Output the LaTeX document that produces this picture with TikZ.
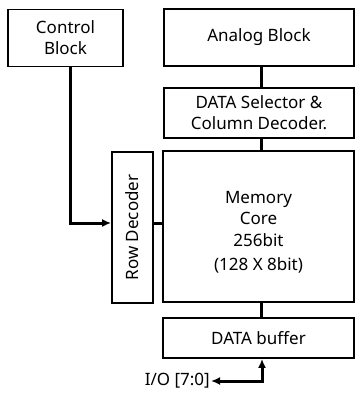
\documentclass[tikz,border=0pt]{standalone}
\usepackage{fontspec}
\setmainfont{Noto Sans}
\usetikzlibrary{arrows.meta}
\begin{document}
\begin{tikzpicture}[x=1pt,y=-1pt,
  txt/.style={font=\fontsize{17}{21}\selectfont},
  blk/.style={txt, draw=black, line width=1.8pt, rectangle, align=center, inner sep=0pt},
  conn/.style={line width=3pt},
  tip/.style={-{Latex[length=9pt,width=8pt]}}
]
\useasboundingbox (0,0) rectangle (356,396);
\node[blk, minimum width=115pt, minimum height=57pt] (control) at (65.5,38) {Control\\Block};
\node[blk, minimum width=190pt, minimum height=57pt] (analog) at (259,37.5) {Analog Block};
\node[blk, minimum width=190pt, minimum height=50pt] (datasel) at (259,113) {DATA Selector \&\\Column Decoder.};
\node[blk, minimum width=191pt, minimum height=151pt, font=\fontsize{17}{21.5}\selectfont] (memory) at (258.5,226.5) {\\[2pt]Memory\\Core\\256bit\\[3pt](128 X 8bit)};
\node[blk, minimum width=41pt, minimum height=151pt] (row) at (132.5,227.5) {};
\node[txt, rotate=90] (rowlabel) at (row.center) {Row Decoder};
\node[blk, minimum width=191pt, minimum height=40pt] (buffer) at (258.5,338) {DATA buffer};
\node[txt, inner sep=1pt, anchor=east] (io) at (211,381) {I/O [7:0]};
\coordinate (col) at (261,0);
\coordinate (ctl) at (70,223);
\coordinate (iocorner) at (262,382);
\draw[conn] (analog.south -| col) -- (datasel.north -| col);
\draw[conn] (datasel.south -| col) -- (memory.north -| col);
\draw[conn] (memory.south -| col) -- (buffer.north -| col);
\draw[conn] (row.east |- ctl) -- (memory.west |- ctl);
\draw[conn, tip] (control.south -| ctl) -- (ctl) -- (row.west |- ctl);
\draw[conn, {Latex[length=9pt,width=8pt]}-{Latex[length=9pt,width=8pt]}] (io.east) -- (io.east -| iocorner) -- (buffer.south -| iocorner);
\end{tikzpicture}
\end{document}
